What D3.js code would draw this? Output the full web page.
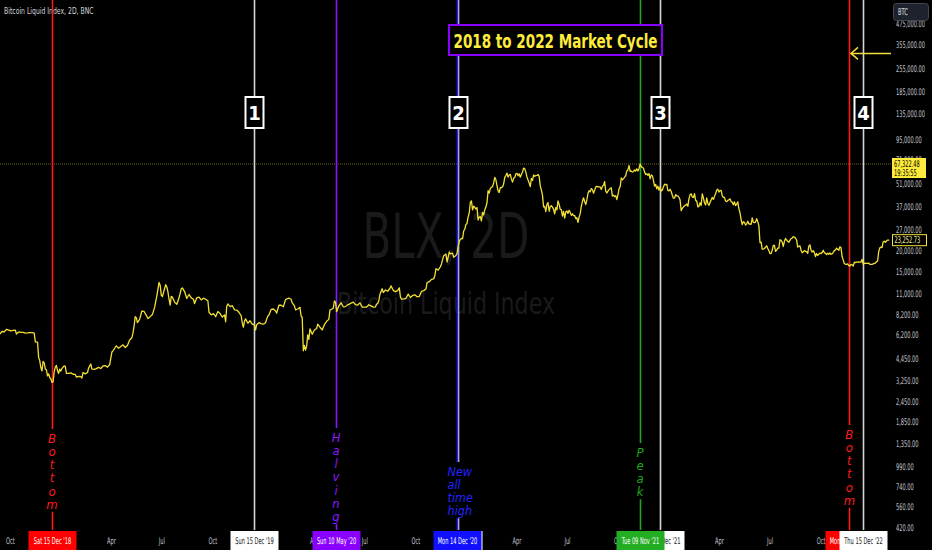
<!DOCTYPE html>
<html><head><meta charset="utf-8">
<script src="https://cdn.jsdelivr.net/npm/d3@7/dist/d3.min.js"></script>
<style>html,body{margin:0;padding:0;background:#000;overflow:hidden}svg{display:block}</style>
</head><body><svg id="c" width="932" height="550"></svg>
<script>
// ---------- DATA ----------
const dates = [
"18-09-12","18-09-16","18-09-20","18-09-24","18-09-28","18-10-02","18-10-06","18-10-10","18-10-12","18-10-16","18-10-20","18-10-24","18-10-28","18-11-01","18-11-05","18-11-09","18-11-13","18-11-15","18-11-19","18-11-21","18-11-23","18-11-25","18-11-27","18-11-29","18-12-01","18-12-03","18-12-05","18-12-07","18-12-09","18-12-11","18-12-13","18-12-15","18-12-17","18-12-19","18-12-21","18-12-23","18-12-25","18-12-27","18-12-29","18-12-31",
"19-01-02","19-01-06","19-01-08","19-01-10","19-01-14","19-01-18","19-01-22","19-01-26","19-01-28","19-02-01","19-02-05","19-02-07","19-02-09","19-02-13","19-02-17","19-02-19","19-02-23","19-02-25","19-03-01","19-03-05","19-03-09","19-03-13","19-03-17","19-03-21","19-03-25","19-03-29","19-04-02","19-04-04","19-04-08","19-04-10","19-04-14","19-04-18","19-04-22","19-04-26","19-04-30","19-05-04","19-05-08","19-05-10","19-05-12","19-05-14","19-05-16","19-05-18","19-05-22","19-05-26","19-05-30","19-06-03","19-06-06","19-06-10","19-06-14","19-06-18","19-06-22","19-06-26","19-06-28","19-06-30","19-07-02","19-07-04","19-07-08","19-07-10","19-07-12","19-07-14","19-07-16","19-07-18","19-07-20","19-07-24","19-07-28","19-08-01","19-08-05","19-08-07","19-08-11","19-08-15","19-08-19","19-08-23","19-08-27","19-08-29","19-09-02","19-09-06","19-09-10","19-09-14","19-09-18","19-09-22","19-09-24","19-09-28","19-10-02","19-10-06","19-10-10","19-10-14","19-10-18","19-10-22","19-10-24","19-10-26","19-10-28","19-11-01","19-11-05","19-11-09","19-11-13","19-11-17","19-11-21","19-11-23","19-11-25","19-11-27","19-11-29","19-12-03","19-12-07","19-12-11","19-12-15","19-12-17","19-12-19","19-12-23","19-12-27","19-12-31",
"20-01-04","20-01-06","20-01-08","20-01-10","20-01-14","20-01-18","20-01-22","20-01-24","20-01-28","20-02-01","20-02-05","20-02-09","20-02-13","20-02-15","20-02-19","20-02-21","20-02-25","20-02-27","20-03-02","20-03-06","20-03-08","20-03-10","20-03-12","20-03-14","20-03-16","20-03-18","20-03-20","20-03-22","20-03-24","20-03-28","20-04-01","20-04-05","20-04-07","20-04-11","20-04-15","20-04-19","20-04-23","20-04-27","20-04-29","20-05-01","20-05-05","20-05-07","20-05-09","20-05-11","20-05-15","20-05-19","20-05-23","20-05-27","20-05-31","20-06-02","20-06-06","20-06-10","20-06-14","20-06-18","20-06-22","20-06-26","20-06-30","20-07-04","20-07-08","20-07-12","20-07-16","20-07-20","20-07-22","20-07-24","20-07-26","20-07-28","20-08-01","20-08-03","20-08-07","20-08-11","20-08-15","20-08-17","20-08-21","20-08-25","20-08-29","20-09-01","20-09-03","20-09-05","20-09-09","20-09-13","20-09-17","20-09-21","20-09-25","20-09-29","20-10-03","20-10-07","20-10-11","20-10-15","20-10-19","20-10-21","20-10-25","20-10-29","20-11-02","20-11-04","20-11-06","20-11-10","20-11-14","20-11-16","20-11-18","20-11-20","20-11-24","20-11-26","20-11-30","20-12-02","20-12-06","20-12-08","20-12-12","20-12-14","20-12-16","20-12-18","20-12-20","20-12-22","20-12-24","20-12-26","20-12-28","20-12-30",
"21-01-01","21-01-03","21-01-05","21-01-07","21-01-09","21-01-11","21-01-13","21-01-15","21-01-17","21-01-19","21-01-21","21-01-23","21-01-25","21-01-27","21-01-29","21-01-31","21-02-02","21-02-04","21-02-06","21-02-08","21-02-10","21-02-12","21-02-14","21-02-16","21-02-18","21-02-20","21-02-22","21-02-24","21-02-26","21-02-28","21-03-02","21-03-04","21-03-06","21-03-08","21-03-10","21-03-12","21-03-14","21-03-16","21-03-18","21-03-20","21-03-22","21-03-24","21-03-26","21-03-28","21-03-30","21-04-01","21-04-03","21-04-05","21-04-07","21-04-09","21-04-11","21-04-13","21-04-15","21-04-17","21-04-19","21-04-21","21-04-23","21-04-25","21-04-27","21-04-29","21-05-01","21-05-03","21-05-05","21-05-07","21-05-09","21-05-11","21-05-13","21-05-15","21-05-17","21-05-19","21-05-21","21-05-23","21-05-25","21-05-27","21-05-29","21-05-31","21-06-02","21-06-04","21-06-06","21-06-08","21-06-10","21-06-12","21-06-14","21-06-16","21-06-18","21-06-20","21-06-22","21-06-24","21-06-26","21-06-28","21-06-30","21-07-02","21-07-04","21-07-06","21-07-08","21-07-10","21-07-12","21-07-14","21-07-16","21-07-18","21-07-20","21-07-22","21-07-24","21-07-26","21-07-28","21-07-30","21-08-01","21-08-03","21-08-05","21-08-07","21-08-09","21-08-11","21-08-13","21-08-15","21-08-17","21-08-19","21-08-21","21-08-23","21-08-25","21-08-27","21-08-29","21-08-31","21-09-02","21-09-04","21-09-06","21-09-08","21-09-10","21-09-12","21-09-14","21-09-16","21-09-18","21-09-20","21-09-22","21-09-24","21-09-26","21-09-28","21-09-30","21-10-02","21-10-04","21-10-06","21-10-08","21-10-10","21-10-12","21-10-14","21-10-16","21-10-18","21-10-20","21-10-22","21-10-24","21-10-26","21-10-28","21-10-30","21-11-01","21-11-03","21-11-05","21-11-07","21-11-09","21-11-11","21-11-13","21-11-15","21-11-17","21-11-19","21-11-21","21-11-23","21-11-25","21-11-27","21-11-29","21-12-01","21-12-03","21-12-05","21-12-07","21-12-09","21-12-11","21-12-13","21-12-15","21-12-17","21-12-19","21-12-21","21-12-23","21-12-25","21-12-27","21-12-29","21-12-31",
"22-01-02","22-01-04","22-01-06","22-01-08","22-01-10","22-01-12","22-01-14","22-01-16","22-01-18","22-01-20","22-01-22","22-01-24","22-01-26","22-01-28","22-01-30","22-02-01","22-02-03","22-02-05","22-02-07","22-02-09","22-02-11","22-02-13","22-02-15","22-02-17","22-02-19","22-02-21","22-02-23","22-02-25","22-02-27","22-03-01","22-03-03","22-03-05","22-03-07","22-03-09","22-03-11","22-03-13","22-03-15","22-03-17","22-03-19","22-03-21","22-03-23","22-03-25","22-03-27","22-03-29","22-03-31","22-04-02","22-04-04","22-04-06","22-04-08","22-04-10","22-04-12","22-04-14","22-04-16","22-04-18","22-04-20","22-04-22","22-04-24","22-04-26","22-04-28","22-04-30","22-05-02","22-05-04","22-05-06","22-05-08","22-05-10","22-05-12","22-05-14","22-05-16","22-05-18","22-05-20","22-05-22","22-05-24","22-05-26","22-05-28","22-05-30","22-06-01","22-06-03","22-06-05","22-06-07","22-06-09","22-06-11","22-06-13","22-06-15","22-06-17","22-06-19","22-06-21","22-06-23","22-06-25","22-06-27","22-06-29","22-07-01","22-07-03","22-07-05","22-07-07","22-07-09","22-07-11","22-07-13","22-07-15","22-07-17","22-07-19","22-07-21","22-07-23","22-07-25","22-07-27","22-07-29","22-07-31","22-08-02","22-08-04","22-08-06","22-08-08","22-08-10","22-08-12","22-08-14","22-08-16","22-08-18","22-08-20","22-08-22","22-08-24","22-08-26","22-08-28","22-08-30","22-09-01","22-09-03","22-09-05","22-09-07","22-09-09","22-09-11","22-09-13","22-09-15","22-09-17","22-09-19","22-09-21","22-09-23","22-09-25","22-09-27","22-09-29","22-10-01","22-10-03","22-10-05","22-10-07","22-10-09","22-10-11","22-10-13","22-10-15","22-10-17","22-10-19","22-10-21","22-10-23","22-10-25","22-10-27","22-10-29","22-10-31","22-11-02","22-11-04","22-11-06","22-11-08","22-11-10","22-11-12","22-11-14","22-11-16","22-11-18","22-11-20","22-11-22","22-11-24","22-11-26","22-11-28","22-11-30","22-12-02","22-12-04","22-12-06","22-12-08","22-12-10","22-12-12","22-12-14","22-12-16","22-12-18","22-12-20","22-12-22","22-12-24","22-12-26","22-12-28","22-12-30",
"23-01-01","23-01-03","23-01-05","23-01-07","23-01-09","23-01-11","23-01-13","23-01-15","23-01-17","23-01-19","23-01-21","23-01-23","23-01-25","23-01-27","23-01-29","23-02-01"
];
const prices = [
6280,6500,6480,6700,6630,6550,6600,6620,6280,6460,6420,6420,6350,6370,6400,6400,6350,5620,5600,4530,4330,3930,3750,4280,4200,3850,3810,3500,3600,3420,3350,3200,3220,3700,3950,4050,3770,3620,3850,3740,
3880,4020,4000,3620,3620,3650,3580,3570,3440,3480,3460,3400,3670,3600,3670,3900,4130,3840,3830,3870,3940,3880,4020,4040,3950,4100,4880,4960,5200,5320,5150,5280,5400,5200,5350,5780,5950,6350,7000,8000,7880,7360,7700,8650,8600,8150,7800,8000,8230,9100,10700,12900,12400,10800,10600,11200,12500,12100,11300,10200,9400,10600,10500,9800,9500,10400,11800,11950,11350,10300,10900,10400,10200,9600,10400,10500,10100,10350,10200,9990,8500,8200,8340,7990,8590,8350,7950,8200,7450,9250,9550,9200,9320,8800,8770,8500,8100,7300,6900,7520,7750,7300,7550,7200,7100,6650,7150,7350,7250,7200,
7350,7750,8050,8180,8850,8900,8650,8400,9380,9380,9180,10150,10300,10350,10200,9700,9300,8800,8900,9100,8050,7900,4970,5360,5020,5300,6200,5830,6750,6250,6640,6780,7200,6900,6650,7150,7500,7700,8780,8830,9000,9950,9800,8570,9300,9700,9180,9200,9450,9500,9660,9800,9450,9400,9690,9150,9140,9130,9440,9300,9130,9160,9530,9600,9950,10900,11800,11200,11600,11400,11850,12300,11550,11350,11500,11950,10500,10200,10250,10330,10950,10450,10750,10850,10550,10600,11400,11500,11750,12850,13030,13450,13560,14150,15600,15300,16050,16700,17800,18700,19160,17150,19700,19220,19380,18320,18800,19270,21300,22800,23480,23830,23730,26440,27080,28950,
29370,32200,33990,39400,40250,35500,37350,36800,35900,36650,30850,32100,32250,30400,34300,33100,35500,36900,39200,46400,44800,47900,48700,49100,51650,55900,54090,49700,46300,45200,48400,48400,48900,50900,55900,57300,59300,56100,57700,58300,54500,52300,55100,55800,58700,59100,57100,58700,56000,58100,60200,63500,63100,60100,56200,53800,51700,49100,55000,53600,57800,56700,57200,57400,58200,56600,49600,46700,43600,37000,37300,34700,38300,39300,34800,37300,37600,36900,35800,33600,36700,35500,40200,38300,35800,35600,32500,34700,31600,34500,35000,33800,35300,34200,32900,33600,32800,32800,31400,31800,29800,32100,33700,37300,40000,42000,39900,38200,40900,44600,46400,45600,47800,47100,44800,46700,48900,49300,48900,49000,48800,47200,49300,50000,52700,46100,44900,46100,47100,47800,48300,43000,43600,42800,43200,41000,43800,47700,49100,55400,53900,54900,56000,57300,61100,62000,65900,60700,61000,60300,60600,62000,61000,62900,61100,63300,67322,64900,64100,63600,60100,58100,58800,57500,58900,54800,57800,57200,53600,49400,50600,47600,49400,46700,48900,46200,46700,48900,50800,50400,50700,46500,46300,
47300,45900,43500,41800,41900,43900,43100,43100,42300,40700,35100,36300,36900,37700,37900,38500,37300,41500,43800,44400,42400,42200,44500,40500,40100,37000,37300,39200,37700,44400,42000,39100,38000,41900,38800,37800,39300,40900,42200,41000,42900,44400,46800,47400,45500,46400,46600,43200,42300,42200,40100,39900,40500,40800,41400,39700,39500,38100,39700,37700,38500,39700,36000,34000,31000,28900,30100,29800,28700,29200,30300,29100,29200,29000,31700,29800,29700,29900,31400,30100,28400,22500,22600,20500,20500,20700,21100,21500,20700,20100,19300,19300,20200,21600,21600,19900,20200,20800,20800,23400,23200,22600,21300,22900,23800,23300,22900,22600,23200,23800,23900,24400,24300,23900,23300,21100,21400,21500,20200,19500,19800,20100,19900,19800,19300,21400,21800,20200,19700,20100,19500,18500,19300,18800,19100,19400,19300,19600,20200,19500,19400,19000,19400,19100,19500,19100,19200,19600,20100,20300,20800,20500,20200,21200,20900,18500,17600,16800,16600,16600,16700,16300,16200,16600,16500,16200,17100,17000,17100,17100,17200,17100,17100,17800,16600,16800,16900,16800,16800,16900,16600,16600,
16600,16700,16800,16900,17200,17400,19900,20900,21100,21000,22700,22900,22600,23000,23300,23252.73
];
const yTickValues = [475000,355000,255000,185000,135000,95000,71000,51000,37000,27000,20000,15000,11000,8200,6200,4450,3250,2450,1850,1350,990,740,560,420];
const monthTicks = ["18-10-01","19-04-01","19-07-01","19-10-01","20-04-01","20-07-01","20-10-01","21-04-01","21-07-01","21-10-01","22-04-01","22-07-01","22-10-01"];
const markerDates  = ["18-12-15","19-12-15","20-05-10","20-12-15","20-12-14","21-12-15","21-11-09","22-11-21","22-12-15"];
const markerLabels = ["Sat 15 Dec '18","Sun 15 Dec '19","Sun 10 May '20","Tue 15 Dec '20","Mon 14 Dec '20","Wed 15 Dec '21","Tue 09 Nov '21","Mon 21 Nov '22","Thu 15 Dec '22"];
const markerKinds  = ["bottom","cycle","halving","cycle","ath","cycle","peak","bottom","cycle"];
const cycleNumbers = ["1","2","3","4"];
const cycleDates   = ["19-12-15","20-12-15","21-12-15","22-12-15"];
const noteDates = ["18-12-15","20-05-10","20-12-14","21-11-09","22-11-21"];
const noteTexts = ["Bottom","Halving","New all time high","Peak","Bottom"];
const noteKinds = ["bottom","halving","ath","peak","bottom"];
const titleText = "2018 to 2022 Market Cycle";
const legendText = "Bitcoin Liquid Index, 2D, BNC";
const levelPrice = 67322.48, levelTime = "19:35:55";
const lastPrice = 23252.73;
const arrowPrice = 315000;

// ---------- STYLE ----------
const W = 932, H = 550, plotR = 892, plotB = 530;
const kindColor = {bottom:"#ff1a1a", cycle:"#d6d6d6", halving:"#8a17ff", ath:"#2323ff", peak:"#1fa81f"};
const boxFill = {bottom:"#ff0000", cycle:"#ffffff", halving:"#8a00ff", ath:"#1010ff", peak:"#22ad22"};
const boxText = {bottom:"#ffffff", cycle:"#131722", halving:"#ffffff", ath:"#ffffff", peak:"#ffffff"};
const noteColor = {bottom:"#ff1a1a", halving:"#8a17ff", ath:"#2323ff", peak:"#1fa81f"};
const uiFont = "'DejaVu Sans Condensed',sans-serif";
const uiSize = 9.2;
const parse = d3.utcParse("%y-%m-%d");

const svg = d3.select("#c");
svg.append("rect").attr("width",W).attr("height",H).attr("fill","#000");

const x = d3.scaleUtc().domain([parse("18-09-12"), parse("23-02-05")]).range([-0.2, 891.5]);
const y = d3.scaleLog().domain([420, 475000]).range([527.8, 24]);

// horizontal squeeze so UI text matches the narrow reference font
const probe = svg.append("text").attr("font-family",uiFont).attr("font-size",uiSize).text("475,000.00");
const K = 29 / probe.node().getComputedTextLength();
probe.remove();
// append a squeezed UI text at (px,py)
function uiText(parent, px, py, str, opts){
  opts = opts || {};
  const t = parent.append("text")
    .attr("transform", `translate(${px},${py}) scale(${opts.k||K},1)`)
    .attr("font-family",uiFont).attr("font-size",opts.size||uiSize)
    .attr("fill",opts.fill||"#c3c6ce").attr("text-anchor",opts.anchor||"start");
  if (opts.dy) t.attr("dy",opts.dy);
  t.text(str);
  return t;
}

// watermark
svg.append("text").attr("x",446).attr("y",258).attr("text-anchor","middle")
  .attr("font-family","'DejaVu Sans Condensed',sans-serif").attr("font-weight",300).attr("font-size",63)
  .attr("fill","#1a1a1a").attr("textLength",167).attr("lengthAdjust","spacingAndGlyphs").text("BLX, 2D");
svg.append("text").attr("x",446).attr("y",314).attr("text-anchor","middle")
  .attr("font-family","'DejaVu Sans Condensed',sans-serif").attr("font-size",31)
  .attr("fill","#1a1a1a").attr("textLength",218).attr("lengthAdjust","spacingAndGlyphs").text("Bitcoin Liquid Index");

// legend text
uiText(svg, 4, 14, legendText, {fill:"#d1d4dc", k:0.74});

// level line
svg.append("line").attr("x1",0).attr("x2",plotR).attr("y1",y(levelPrice)).attr("y2",y(levelPrice))
  .attr("stroke","#6e6520").attr("stroke-width",1).attr("stroke-dasharray","1,1");

// vertical marker lines
const mk = markerDates.map((d,i)=>({date:parse(d), label:markerLabels[i], kind:markerKinds[i]}));
svg.append("g").selectAll("line").data(mk).join("line")
  .attr("x1",d=>Math.round(x(d.date))+0.5).attr("x2",d=>Math.round(x(d.date))+0.5)
  .attr("y1",0).attr("y2",plotB)
  .attr("stroke",d=>kindColor[d.kind]).attr("stroke-width",1.6);

// price line
const series = dates.map((d,i)=>({date:parse(d), v:prices[i]}));
svg.append("defs").append("clipPath").attr("id","pc").append("rect").attr("x",0).attr("y",0).attr("width",plotR).attr("height",plotB);
svg.append("path").datum(series).attr("clip-path","url(#pc)")
  .attr("fill","none").attr("stroke","#f2e034").attr("stroke-width",1.3).attr("stroke-linejoin","round")
  .attr("d", d3.line().x(d=>x(d.date)).y(d=>y(d.v)));

// vertical notes
const notes = noteDates.map((d,i)=>({date:parse(d), text:noteTexts[i], kind:noteKinds[i]}));
const noteTop = {bottom:438, halving:437, ath:471, peak:452};
notes.forEach((n,i)=>{
  const cx = x(n.date);
  const g = svg.append("g");
  let top = noteTop[n.kind]; if (i===4) top = 434;
  if (n.kind==="ath"){
    const words = n.text.split(" ");
    g.append("rect").attr("x",cx-10).attr("y",top-9).attr("width",26).attr("height",words.length*13.3+3).attr("fill","#000");
    words.forEach((w,j)=>g.append("text").attr("x",cx-9.5).attr("y",top+4.5+j*13.3)
      .attr("font-family","'DejaVu Sans Condensed',sans-serif").attr("font-style","italic").attr("font-size",12.5)
      .attr("fill",noteColor[n.kind]).text(w));
  } else {
    const letters = n.text.split("");
    g.append("rect").attr("x",cx-7).attr("y",top-9).attr("width",14).attr("height",letters.length*13.3+3).attr("fill","#000");
    letters.forEach((c,j)=>g.append("text").attr("x",cx).attr("y",top+4.5+j*13.3).attr("text-anchor","middle")
      .attr("font-family","'DejaVu Sans Condensed',sans-serif").attr("font-style","italic").attr("font-size",13)
      .attr("fill",noteColor[n.kind]).text(c));
  }
});

// cycle number boxes
cycleNumbers.forEach((t,i)=>{
  const cx = Math.round(x(parse(cycleDates[i])))+0.5;
  svg.append("rect").attr("x",cx-9).attr("y",97).attr("width",18).attr("height",31)
    .attr("fill","#000").attr("stroke","#fff").attr("stroke-width",2);
  svg.append("text").attr("x",cx).attr("y",120).attr("text-anchor","middle")
    .attr("font-family","'DejaVu Sans Condensed',sans-serif").attr("font-weight","bold").attr("font-size",20)
    .attr("fill","#fff").text(t);
});

// title box
svg.append("rect").attr("x",449).attr("y",25).attr("width",213).attr("height",30)
  .attr("fill","#000").attr("stroke","#8a00ff").attr("stroke-width",2);
svg.append("text").attr("x",555.5).attr("y",48).attr("text-anchor","middle")
  .attr("font-family","'DejaVu Sans Condensed',sans-serif").attr("font-weight","bold").attr("font-size",20)
  .attr("fill","#ffeb3b").attr("textLength",204).attr("lengthAdjust","spacingAndGlyphs").text(titleText);

// arrow
const ay = y(arrowPrice);
svg.append("line").attr("x1",851).attr("x2",891).attr("y1",ay).attr("y2",ay).attr("stroke","#f2e034").attr("stroke-width",1.5);
svg.append("path").attr("d",`M${858},${ay-6} L${851},${ay} L${858},${ay+6}`).attr("fill","none").attr("stroke","#f2e034").attr("stroke-width",1.5);

// x axis month labels
const fmtM = d3.utcFormat("%b");
const xg = svg.append("g");
monthTicks.map(parse).forEach(d=>uiText(xg, x(d), 544, fmtM(d), {anchor:"middle"}));

// marker date boxes
mk.forEach(d=>{
  const cx = Math.round(x(d.date))+0.5;
  svg.append("rect").attr("x",cx-24).attr("y",531).attr("width",48).attr("height",19).attr("fill",boxFill[d.kind]);
  uiText(svg, cx, 544, d.label, {anchor:"middle", fill:boxText[d.kind]});
});

// right axis
const fmt = d3.format(",.2f");
const yg = svg.append("g");
yTickValues.forEach(v=>uiText(yg, 896, y(v), fmt(v), {dy:"0.35em"}));

// BTC button
svg.append("rect").attr("x",893.5).attr("y",3.5).attr("width",35).attr("height",17).attr("rx",3)
  .attr("fill","#1e222d").attr("stroke","#434651");
uiText(svg, 898, 15, "BTC", {fill:"#e0e3eb"});

// level price tag
const ly = y(levelPrice);
svg.append("rect").attr("x",892).attr("y",ly-6).attr("width",34).attr("height",20).attr("fill","#ffeb3b");
uiText(svg, 894, ly+2.5, fmt(levelPrice), {fill:"#000"});
uiText(svg, 894, ly+11.5, levelTime, {fill:"#000"});

// last price tag
const lp = y(lastPrice);
svg.append("rect").attr("x",892.5).attr("y",lp-5.5).attr("width",34).attr("height",11).attr("fill","#000").attr("stroke","#f2e034");
uiText(svg, 894.5, lp, fmt(lastPrice), {fill:"#f7f0a0", dy:"0.35em"});
</script></body></html>
